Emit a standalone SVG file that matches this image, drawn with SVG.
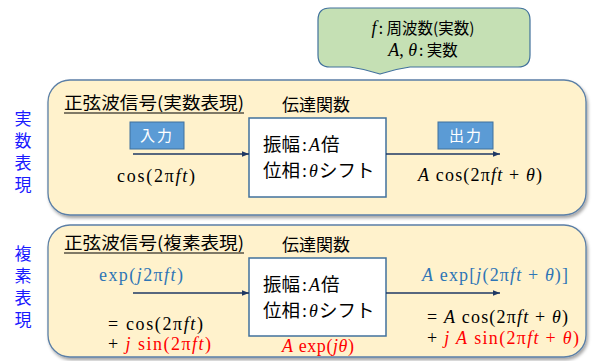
<svg xmlns="http://www.w3.org/2000/svg" width="592" height="361" viewBox="0 0 592 361">
<defs>
<marker id="arr" viewBox="0 0 10 10" refX="10" refY="5" markerWidth="7" markerHeight="7" markerUnits="userSpaceOnUse" orient="auto">
<path d="M0,1 L10,5 L0,9 Z" fill="#1f3864"/>
</marker>
<filter id="sh" x="-5%" y="-5%" width="110%" height="115%">
<feDropShadow dx="1.5" dy="2.5" stdDeviation="1.5" flood-color="#000" flood-opacity="0.35"/>
</filter>
</defs>
<style>
.panel{fill:#fff2cc;stroke:#5b7fa6;stroke-width:1.3}
.box{fill:#fff;stroke:#41719c;stroke-width:1.5}
.tag{fill:#5b9bd5;stroke:#41719c;stroke-width:1}
.jp{font-family:"Noto Sans CJK JP","Noto Sans",sans-serif;fill:#000}
.m{font-family:"Liberation Serif","DejaVu Serif",serif;font-size:18px;fill:#000}
.i{font-style:italic}
.side{font-family:"Noto Sans CJK JP",sans-serif;font-size:17px;fill:#1a1aff;writing-mode:tb;letter-spacing:5px}
.conn{stroke:#1f3864;stroke-width:1.3;fill:none;marker-end:url(#arr)}
.red{fill:#ff0000}
.blu{fill:#2e75b6}
</style>

<g id="callout">
<path d="M330,8 H518 Q530,8 530,20 V55 Q530,67 518,67 H410 Q395,69 380,74 Q365,69 350,67 H330 Q318,67 318,55 V20 Q318,8 330,8 Z" fill="#c5e0b4" stroke="#41719c" stroke-width="1.2"/>
<text x="423" y="34" text-anchor="middle" font-size="15.5"><tspan class="m i" font-size="17">f</tspan><tspan class="jp" dx="2">: 周波数(実数)</tspan></text>
<text x="423" y="56" text-anchor="middle" font-size="15.5"><tspan class="m i" font-size="17">A</tspan><tspan class="m" font-size="17">, </tspan><tspan class="m i" font-size="17">θ</tspan><tspan class="jp" dx="2">: 実数</tspan></text>
</g>

<g id="label-real">
<text class="side" x="23" y="110">実数表現</text>
</g>
<g id="label-complex">
<text class="side" x="23" y="245">複素表現</text>
</g>

<g id="panel-real">
<rect class="panel" x="48" y="80" width="538" height="135" rx="22" filter="url(#sh)"/>
<text class="jp" x="64" y="109" font-size="17" textLength="180" lengthAdjust="spacingAndGlyphs">正弦波信号(実数表現)</text>
<line x1="64" y1="113" x2="244" y2="113" stroke="#000" stroke-width="1"/>
<text class="jp" x="282" y="111" font-size="17">伝達関数</text>
</g>

<g id="tf-real">
<rect class="box" x="249" y="118" width="137" height="79"/>
<text x="263" y="151" font-size="18.5"><tspan class="jp">振幅</tspan><tspan class="m" font-size="19" dx="2">:</tspan><tspan class="m i" font-size="19" dx="2">A</tspan><tspan class="jp" dx="1">倍</tspan></text>
<text x="263" y="177" font-size="18.5"><tspan class="jp">位相</tspan><tspan class="m" font-size="19" dx="2">:</tspan><tspan class="m i" font-size="19" dx="2">θ</tspan><tspan class="jp" dx="1">シフト</tspan></text>
</g>

<g id="in-real">
<rect class="tag" x="130" y="122" width="54" height="27"/>
<text class="jp" x="157" y="141" font-size="15" text-anchor="middle" style="fill:#fff" letter-spacing="2">入力</text>
<text class="m" x="117" y="182" textLength="78" lengthAdjust="spacing">cos(2π<tspan class="i">ft</tspan>)</text>
</g>

<g id="out-real">
<rect class="tag" x="438" y="122" width="55" height="27"/>
<text class="jp" x="466" y="141" font-size="15" text-anchor="middle" style="fill:#fff" letter-spacing="2">出力</text>
<text class="m" x="418" y="181" textLength="124" lengthAdjust="spacing"><tspan class="i">A</tspan> cos(2π<tspan class="i">ft</tspan> + <tspan class="i">θ</tspan>)</text>
</g>

<g id="panel-complex">
<rect class="panel" x="48" y="225" width="538" height="132" rx="22" filter="url(#sh)"/>
<text class="jp" x="64" y="249" font-size="17" textLength="180" lengthAdjust="spacingAndGlyphs">正弦波信号(複素表現)</text>
<line x1="64" y1="253" x2="244" y2="253" stroke="#000" stroke-width="1"/>
<text class="jp" x="282" y="251" font-size="17">伝達関数</text>
</g>

<g id="tf-complex">
<rect class="box" x="249" y="258" width="137" height="78"/>
<text x="263" y="291" font-size="18.5"><tspan class="jp">振幅</tspan><tspan class="m" font-size="19" dx="2">:</tspan><tspan class="m i" font-size="19" dx="2">A</tspan><tspan class="jp" dx="1">倍</tspan></text>
<text x="263" y="317" font-size="18.5"><tspan class="jp">位相</tspan><tspan class="m" font-size="19" dx="2">:</tspan><tspan class="m i" font-size="19" dx="2">θ</tspan><tspan class="jp" dx="1">シフト</tspan></text>
<text class="m red" x="318" y="352" text-anchor="middle" textLength="72" lengthAdjust="spacing"><tspan class="i">A</tspan> exp(<tspan class="i">jθ</tspan>)</text>
</g>

<g id="in-complex">
<text class="m blu" x="99" y="281" textLength="84" lengthAdjust="spacing">exp(<tspan class="i">j</tspan>2π<tspan class="i">ft</tspan>)</text>
<text class="m" x="108" y="330" textLength="95" lengthAdjust="spacing">= cos(2π<tspan class="i">ft</tspan>)</text>
<text class="m" x="108" y="350" textLength="103" lengthAdjust="spacing">+ <tspan class="red i">j</tspan><tspan class="red"> sin(2π</tspan><tspan class="red i">ft</tspan><tspan class="red">)</tspan></text>
</g>

<g id="out-complex">
<text class="m blu" x="422" y="281" textLength="146" lengthAdjust="spacing"><tspan class="i">A</tspan> exp[<tspan class="i">j</tspan>(2π<tspan class="i">ft</tspan> + <tspan class="i">θ</tspan>)]</text>
<text class="m" x="427" y="323" textLength="141" lengthAdjust="spacing">= <tspan class="i">A</tspan> cos(2π<tspan class="i">ft</tspan> + <tspan class="i">θ</tspan>)</text>
<text class="m" x="427" y="344" textLength="152" lengthAdjust="spacing">+ <tspan class="red i">j A</tspan><tspan class="red">  sin(2π</tspan><tspan class="red i">ft</tspan><tspan class="red"> + </tspan><tspan class="red i">θ</tspan><tspan class="red">)</tspan></text>
</g>

<g id="connectors">
<line class="conn" x1="133" y1="154" x2="249" y2="154"/>
<line class="conn" x1="386" y1="154" x2="500" y2="154"/>
<line class="conn" x1="133" y1="293" x2="249" y2="293"/>
<line class="conn" x1="386" y1="293" x2="500" y2="293"/>
</g>
</svg>
